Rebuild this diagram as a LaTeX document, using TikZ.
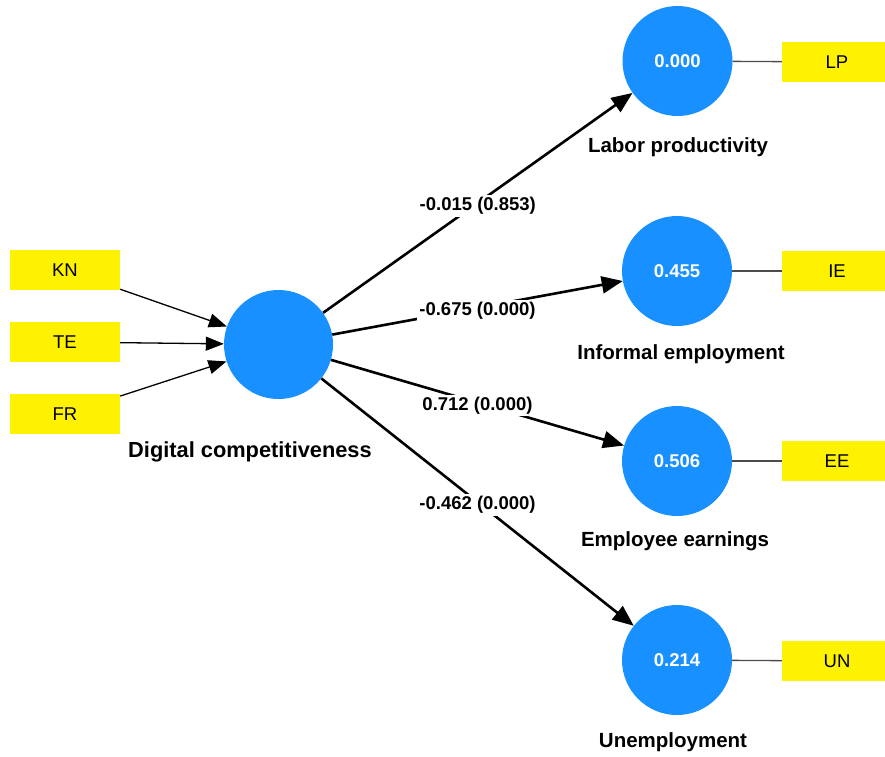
\documentclass[tikz,border=0pt]{standalone}
\usepackage{fontspec}
\setmainfont{Liberation Sans}
\usetikzlibrary{arrows.meta}
\definecolor{lvblue}{RGB}{24,144,255}
\begin{document}
\begin{tikzpicture}[x=1pt,y=-1pt,
 lv/.style={circle, fill=lvblue, minimum size=110pt, inner sep=0pt, text=white, font=\fontsize{18.5}{20}\selectfont\bfseries},
 ind/.style={rectangle, fill=yellow, minimum width=110pt, minimum height=40pt, inner sep=0pt, font=\fontsize{18.5}{20}\selectfont},
 lvname/.style={font=\fontsize{20.5}{22}\selectfont\bfseries},
 coef/.style={fill=white, inner sep=2pt, yshift=-3pt, font=\fontsize{18.5}{20}\selectfont\bfseries},
 pathrel/.style={line width=2.6pt, -{Triangle[length=21pt,width=17pt]}},
 inarr/.style={line width=1.3pt, -{Triangle[length=18pt,width=14pt]}},
 link/.style={line width=1.3pt, draw=black!70}]
\useasboundingbox (0,0) rectangle (885,756);
\clip (0,0) rectangle (885,756);
% left indicators
\node[ind] (KN) at (65,270) {KN};
\node[ind] (TE) at (65,342) {TE};
\node[ind] (FR) at (65,414) {FR};
% central construct
\node[lv, minimum size=109pt] (DC) at (278.5,344.5) {};
\node[lvname, font=\fontsize{21.8}{23}\selectfont\bfseries] (DCn) at (250,452) {Digital competitiveness};
% endogenous constructs
\node[lv] (LPc) at (677.5,61) {0.000};
\node[lv] (IEc) at (677,271) {0.455};
\node[lv] (EEc) at (677,461) {0.506};
\node[lv] (UNc) at (677,660) {0.214};
\node[lvname] (LPn) at (678,147) {Labor productivity};
\node[lvname] (IEn) at (681,354) {Informal employment};
\node[lvname] (EEn) at (675,541) {Employee earnings};
\node[lvname] (UNn) at (673,742) {Unemployment};
% right indicators
\node[ind] (LP) at (837,62) {LP};
\node[ind] (IE) at (837,271) {IE};
\node[ind] (EE) at (837,461) {EE};
\node[ind] (UN) at (837,661) {UN};
% indicator arrows
\draw[inarr] (KN) -- (DC);
\draw[inarr] (TE) -- (DC);
\draw[inarr] (FR) -- (DC);
% links to reflective indicators
\draw[link] (LPc) -- (LP);
\draw[link] (IEc) -- (IE);
\draw[link] (EEc) -- (EE);
\draw[link] (UNc) -- (UN);
% structural paths
\draw[pathrel] (DC) -- node[coef] {-0.015 (0.853)} (LPc);
\draw[pathrel] (DC) -- node[coef] {-0.675 (0.000)} (IEc);
\draw[pathrel] (DC) -- node[coef] {0.712 (0.000)} (EEc);
\draw[pathrel] (DC) -- node[coef] {-0.462 (0.000)} (UNc);
\end{tikzpicture}
\end{document}
